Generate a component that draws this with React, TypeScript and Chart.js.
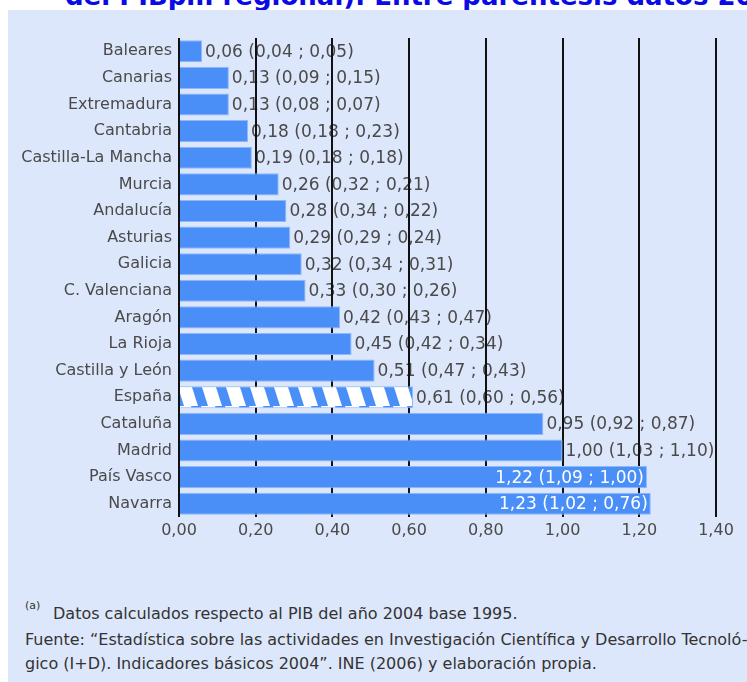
import React, { useEffect, useRef } from 'react';
import { Chart, registerables } from 'chart.js';

Chart.register(...registerables);

const regions = [
  'Baleares', 'Canarias', 'Extremadura', 'Cantabria', 'Castilla-La Mancha', 'Murcia',
  'Andalucía', 'Asturias', 'Galicia', 'C. Valenciana', 'Aragón', 'La Rioja',
  'Castilla y León', 'España', 'Cataluña', 'Madrid', 'País Vasco', 'Navarra',
];
const values2004 = [0.06, 0.13, 0.13, 0.18, 0.19, 0.26, 0.28, 0.29, 0.32, 0.33, 0.42, 0.45, 0.51, 0.61, 0.95, 1.0, 1.22, 1.23];
const values2003 = [0.04, 0.09, 0.08, 0.18, 0.18, 0.32, 0.34, 0.29, 0.34, 0.30, 0.43, 0.42, 0.47, 0.60, 0.92, 1.03, 1.09, 1.02];
const values2002 = [0.05, 0.15, 0.07, 0.23, 0.18, 0.21, 0.22, 0.24, 0.31, 0.26, 0.47, 0.34, 0.43, 0.56, 0.87, 1.10, 1.00, 0.76];
const xTickLabels = ['0,00', '0,20', '0,40', '0,60', '0,80', '1,00', '1,20', '1,40'];

const titleText = 'del PIBpm regional). Entre paréntesis datos 2004';
const noteA = 'Datos calculados respecto al PIB del año 2004 base 1995.';
const noteB = 'Fuente: “Estadística sobre las actividades en Investigación Científica y Desarrollo Tecnoló-';
const noteC = 'gico (I+D). Indicadores básicos 2004”. INE (2006) y elaboración propia.';

const BAR = '#4a8ef8';
const FONT = '"DejaVu Sans", sans-serif';
const fmt = (v: number) => v.toFixed(2).replace('.', ',');
const labelOf = (i: number) => `${fmt(values2004[i])} (${fmt(values2003[i])} ; ${fmt(values2002[i])})`;

function makeHatch(): CanvasPattern | string {
  const c = document.createElement('canvas');
  c.width = 24;
  c.height = 22;
  const g = c.getContext('2d');
  if (!g) return BAR;
  g.fillStyle = BAR;
  g.fillRect(0, 0, 24, 22);
  g.fillStyle = '#ffffff';
  const band = (o: number) => {
    g.beginPath();
    g.moveTo(o + 1, 0);
    g.lineTo(o + 15, 0);
    g.lineTo(o + 22, 22);
    g.lineTo(o + 8, 22);
    g.closePath();
    g.fill();
  };
  band(-24);
  band(0);
  band(24);
  const p = g.createPattern(c, 'repeat');
  return p || BAR;
}

const insideLimit = 1.1;

const labelPlugin = {
  id: 'barLabels',
  beforeDraw(chart: any) {
    const ctx = chart.ctx;
    const meta = chart.getDatasetMeta(0);
    ctx.save();
    ctx.font = `17px ${FONT}`;
    ctx.fillStyle = '#4a4a4a';
    ctx.textBaseline = 'middle';
    ctx.textAlign = 'left';
    meta.data.forEach((el: any, i: number) => {
      if (values2004[i] > insideLimit) return;
      ctx.fillText(labelOf(i), el.x + 3, el.y + 1);
    });
    ctx.restore();
  },
  afterDatasetsDraw(chart: any) {
    const ctx = chart.ctx;
    const meta = chart.getDatasetMeta(0);
    ctx.save();
    ctx.font = `17px ${FONT}`;
    ctx.fillStyle = '#ffffff';
    ctx.textBaseline = 'middle';
    ctx.textAlign = 'right';
    meta.data.forEach((el: any, i: number) => {
      if (values2004[i] <= insideLimit) return;
      ctx.fillText(labelOf(i), el.x - 3, el.y + 1);
    });
    ctx.restore();
  },
};

export default function App() {
  const ref = useRef<HTMLCanvasElement>(null);

  useEffect(() => {
    if (!ref.current) return;
    const hatch = makeHatch();
    const idxSpain = regions.indexOf('España');
    const chart = new Chart(ref.current, {
      type: 'bar',
      data: {
        labels: regions,
        datasets: [
          {
            data: values2004,
            backgroundColor: regions.map((_, i) => (i === idxSpain ? hatch : BAR)) as any,
            borderColor: '#8fb8fa',
            borderWidth: 1,
            barPercentage: 0.83,
            categoryPercentage: 1,
          },
        ],
      },
      options: {
        indexAxis: 'y',
        animation: false,
        responsive: false,
        maintainAspectRatio: false,
        layout: { padding: { left: 0, right: 31, top: 28, bottom: 0 } },
        plugins: { legend: { display: false }, tooltip: { enabled: false }, title: { display: false } },
        scales: {
          x: {
            min: 0,
            max: 1.4,
            ticks: {
              stepSize: 0.2,
              color: '#4a4a4a',
              font: { family: FONT, size: 16 },
              padding: 4,
              callback: (_v: any, idx: number) => xTickLabels[idx],
            },
            grid: { color: '#111111', lineWidth: 2, drawTicks: false },
            border: { display: false },
            afterFit: (s: any) => { s.height = 53; },
          },
          y: {
            ticks: { color: '#4a4a4a', font: { family: FONT, size: 16 }, padding: 7, autoSkip: false },
            grid: { display: false, drawTicks: false },
            border: { display: false },
            afterFit: (s: any) => { s.width = 171; },
          },
        },
      },
      plugins: [labelPlugin],
    });
    return () => chart.destroy();
  }, []);

  const noteStyle: React.CSSProperties = {
    position: 'absolute',
    fontFamily: FONT,
    fontSize: 16,
    color: '#333',
    whiteSpace: 'nowrap',
    lineHeight: '20px',
  };

  return (
    <div style={{ position: 'fixed', left: 0, top: 0, width: 747, height: 682, background: '#fff', overflow: 'hidden' }}>
      <div
        style={{
          position: 'absolute', left: 65, top: -19, fontFamily: FONT,
          fontWeight: 'bold', fontSize: 26, color: '#0a0ae6', whiteSpace: 'nowrap', lineHeight: '30px',
        }}
      >
        {titleText}
      </div>
      <div style={{ position: 'absolute', left: 8, top: 10, width: 739, height: 672, background: '#dde7fb' }}>
        <canvas ref={ref} width={739} height={560} style={{ position: 'absolute', left: 0, top: 0 }} />
        <div style={{ ...noteStyle, left: 17, top: 586, fontSize: 11 }}>(a)</div>
        <div style={{ ...noteStyle, left: 45, top: 594 }}>{noteA}</div>
        <div style={{ ...noteStyle, left: 17, top: 620 }}>{noteB}</div>
        <div style={{ ...noteStyle, left: 17, top: 644 }}>{noteC}</div>
      </div>
    </div>
  );
}
